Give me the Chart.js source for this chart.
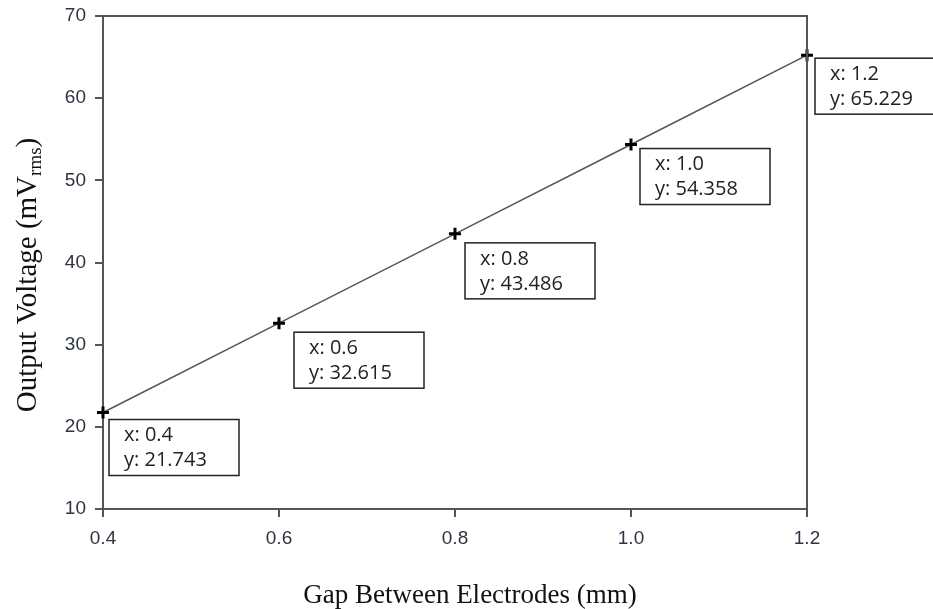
<!DOCTYPE html>
<html>
<head>
<meta charset="utf-8">
<script src="https://cdn.jsdelivr.net/npm/chart.js@4.4.1/dist/chart.umd.min.js"></script>
<style>
  html, body { margin: 0; padding: 0; background: #fff; }
  #wrap { width: 933px; height: 609px; position: relative; }
</style>
</head>
<body>
<div id="wrap"><canvas id="gap-chart"></canvas></div>
<script>
// Data
const gapMm = [0.4, 0.6, 0.8, 1.0, 1.2];
const outputMv = [21.743, 32.615, 43.486, 54.358, 65.229];
const xTicks = [0.4, 0.6, 0.8, 1.0, 1.2];
const yTicks = [10, 20, 30, 40, 50, 60, 70];

// Data-tip box offsets (px from the point), layout only
const tipOffsets = [[6, 7], [15, 9], [10, 9], [9, 4], [8, 3]];

const AXIS_COLOR = '#555555';
const TICK_FONT = { family: 'Liberation Sans, Arial, sans-serif', size: 19 };

// Draws the frame, axis titles and the data-tip boxes
const decorPlugin = {
  id: 'decor',
  afterDraw(chart) {
    const { ctx, chartArea: a, scales } = chart;
    ctx.save();

    // top and right frame lines
    ctx.strokeStyle = AXIS_COLOR;
    ctx.lineWidth = 2;
    ctx.beginPath();
    ctx.moveTo(a.left, a.top);
    ctx.lineTo(a.right, a.top);
    ctx.lineTo(a.right, a.bottom);
    ctx.stroke();

    // x axis title
    ctx.fillStyle = '#111';
    ctx.font = '27px "Liberation Serif", "Times New Roman", serif';
    ctx.textAlign = 'center';
    ctx.textBaseline = 'alphabetic';
    ctx.fillText('Gap Between Electrodes (mm)', 470, 603);

    // y axis title with subscript
    const mainFont = '29px "Liberation Serif", "Times New Roman", serif';
    const subFont = '19px "Liberation Serif", "Times New Roman", serif';
    ctx.font = mainFont;
    const w1 = ctx.measureText('Output Voltage (mV').width;
    const w3 = ctx.measureText(')').width;
    ctx.font = subFont;
    const w2 = ctx.measureText('rms').width;
    const total = w1 + w2 + w3;
    ctx.translate(36, 275);
    ctx.rotate(-Math.PI / 2);
    ctx.textAlign = 'left';
    let x0 = -total / 2;
    ctx.font = mainFont;
    ctx.fillText('Output Voltage (mV', x0, 0);
    ctx.font = subFont;
    ctx.fillText('rms', x0 + w1, 5);
    ctx.font = mainFont;
    ctx.fillText(')', x0 + w1 + w2, 0);
    ctx.setTransform(1, 0, 0, 1, 0, 0);

    // data tips
    ctx.font = '20px "Open Sans", Calibri, sans-serif';
    ctx.textBaseline = 'middle';
    ctx.textAlign = 'left';
    gapMm.forEach((g, i) => {
      const px = scales.x.getPixelForValue(g);
      const py = scales.y.getPixelForValue(outputMv[i]);
      const bx = px + tipOffsets[i][0];
      const by = py + tipOffsets[i][1];
      ctx.fillStyle = '#fff';
      ctx.fillRect(bx, by, 130, 56);
      ctx.strokeStyle = '#222';
      ctx.lineWidth = 1.5;
      ctx.strokeRect(bx, by, 130, 56);
      ctx.fillStyle = '#222';
      ctx.fillText('x: ' + g.toFixed(1), bx + 15, by + 16);
      ctx.fillText('y: ' + outputMv[i].toFixed(3), bx + 15, by + 41);
    });

    ctx.restore();
  }
};

const ctx = document.getElementById('gap-chart');
new Chart(ctx, {
  type: 'scatter',
  data: {
    datasets: [{
      data: gapMm.map((g, i) => ({ x: g, y: outputMv[i] })),
      showLine: true,
      clip: false,
      borderColor: '#555555',
      borderWidth: 1.5,
      pointStyle: 'cross',
      pointRadius: 6,
      pointBorderWidth: 3,
      pointBorderColor: '#000',
      pointBackgroundColor: '#000'
    }]
  },
  options: {
    responsive: true,
    maintainAspectRatio: false,
    animation: false,
    layout: { padding: { left: 0, top: 16, right: 126, bottom: 0 } },
    plugins: {
      legend: { display: false },
      tooltip: { enabled: false }
    },
    scales: {
      x: {
        type: 'linear',
        min: 0.4,
        max: 1.2,
        afterFit: s => { s.height = 100; s.paddingLeft = 0; s.paddingRight = 0; },
        afterBuildTicks: s => { s.ticks = xTicks.map(v => ({ value: v })); },
        ticks: {
          color: '#2e3440',
          font: TICK_FONT,
          padding: 10,
          callback: v => Number(v).toFixed(1)
        },
        grid: { drawOnChartArea: false, drawTicks: true, tickLength: 8, color: AXIS_COLOR, lineWidth: 2 },
        border: { display: true, color: AXIS_COLOR, width: 2 }
      },
      y: {
        min: 10,
        max: 70,
        afterFit: s => { s.width = 103; s.paddingTop = 0; s.paddingBottom = 0; },
        afterBuildTicks: s => { s.ticks = yTicks.map(v => ({ value: v })); },
        ticks: {
          color: '#2e3440',
          font: TICK_FONT,
          padding: 9
        },
        grid: { drawOnChartArea: false, drawTicks: true, tickLength: 8, color: AXIS_COLOR, lineWidth: 2 },
        border: { display: true, color: AXIS_COLOR, width: 2 }
      }
    }
  },
  plugins: [decorPlugin]
});
</script>
</body>
</html>
